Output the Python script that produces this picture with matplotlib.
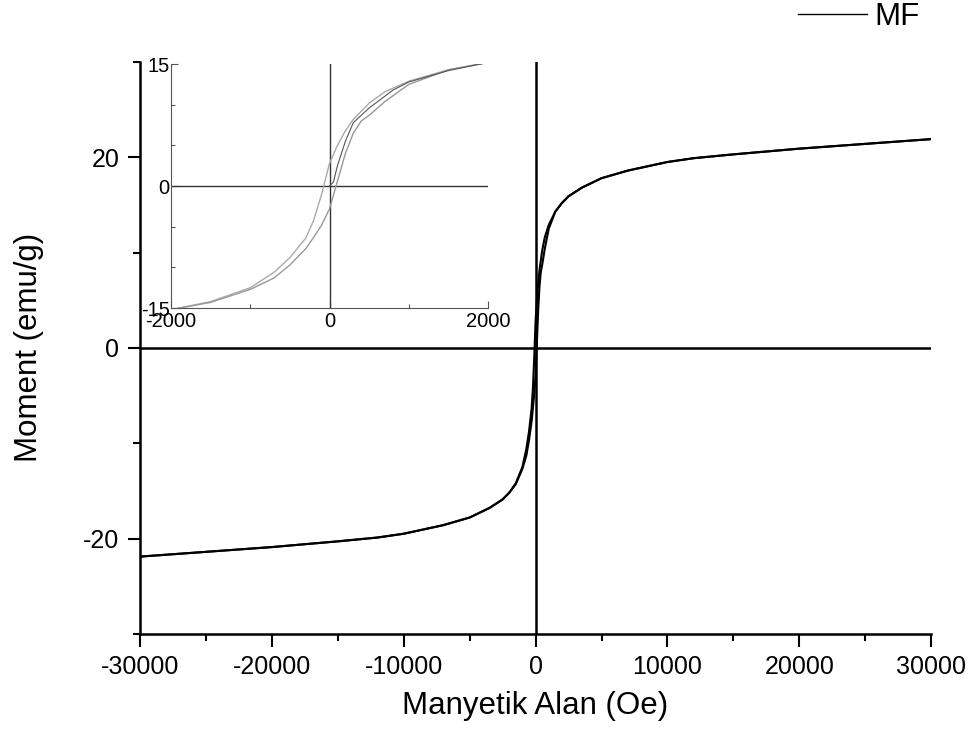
import matplotlib.pyplot as plt
from matplotlib.ticker import MultipleLocator

plt.rcParams['font.family'] = ['Liberation Sans', 'DejaVu Sans']
plt.rcParams['axes.unicode_minus'] = False

# field (Oe) and moment (emu/g)
H_down = [30000, 25000, 20000, 15000, 12000, 10000, 7000, 5000, 3500, 2500, 2000, 1500,
          1000, 700, 500, 300, 200, 100, 0, -100, -200, -300, -500, -700, -1000, -1500,
          -2000, -2500, -3500, -5000, -7000, -10000, -12000, -15000, -20000, -25000, -30000]
M_down = [21.9, 21.4, 20.9, 20.3, 19.9, 19.5, 18.6, 17.8, 16.8, 15.9, 15.2, 14.3,
          12.9, 11.6, 10.2, 8.2, 6.8, 5.0, 2.8, -1.0, -4.2, -6.4, -8.8, -10.6, -12.5, -14.2,
          -15.2, -15.9, -16.8, -17.8, -18.6, -19.5, -19.9, -20.3, -20.9, -21.4, -21.9]

H_up = [-30000, -25000, -20000, -15000, -12000, -10000, -7000, -5000, -3500, -2500, -2000,
        -1500, -1000, -700, -500, -300, -200, -100, 0, 100, 200, 300, 400, 500, 700, 1000,
        1500, 2000, 2500, 3500, 5000, 7000, 10000, 12000, 15000, 20000, 25000, 30000]
M_up = [-21.9, -21.4, -20.9, -20.3, -19.9, -19.5, -18.6, -17.8, -16.8, -15.9, -15.2,
        -14.3, -12.7, -11.3, -9.7, -7.7, -6.3, -4.8, -2.8, 0.6, 4.0, 6.5, 8.0, 8.7, 10.4, 12.5,
        14.3, 15.2, 15.9, 16.8, 17.8, 18.6, 19.5, 19.9, 20.3, 20.9, 21.4, 21.9]

H_virgin = [0, 50, 100, 200, 300, 500, 800, 1000, 1500, 2000]
M_virgin = [0, 0.5, 2.5, 5.5, 7.8, 9.6, 11.8, 12.8, 14.2, 15.2]

fig = plt.figure(figsize=(9.72, 7.37), dpi=100)
ax = fig.add_axes([0.144, 0.14, 0.814, 0.776])

ax.axhline(0, color='black', lw=1.8)
ax.axvline(0, color='black', lw=1.8)
ax.plot(H_down, M_down, color='black', lw=1.5, label='MF')
ax.plot(H_up, M_up, color='black', lw=1.5)

ax.set_xlim(-30000, 30000)
ax.set_ylim(-30, 30)
ax.xaxis.set_major_locator(MultipleLocator(10000))
ax.xaxis.set_minor_locator(MultipleLocator(5000))
ax.yaxis.set_major_locator(MultipleLocator(20))
ax.yaxis.set_minor_locator(MultipleLocator(10))
ax.tick_params(which='both', direction='out', width=1.5, labelsize=18, pad=6)
ax.tick_params(which='major', length=9)
ax.tick_params(which='minor', length=5)
ax.spines['top'].set_visible(False)
ax.spines['right'].set_visible(False)
ax.spines['left'].set_linewidth(1.8)
ax.spines['bottom'].set_linewidth(1.8)
ax.set_xlabel('Manyetik Alan (Oe)', fontsize=22.5, labelpad=9)
ax.set_ylabel('Moment (emu/g)', fontsize=22.5, labelpad=28)

leg = fig.legend(loc='upper right', bbox_to_anchor=(0.975, 1.035), frameon=False,
                 fontsize=22.5, handlelength=2.2, handletextpad=0.25)
for l in leg.get_lines():
    l.set_linewidth(1.0)

# inset: zoom on the loop
ins = fig.add_axes([0.176, 0.582, 0.326, 0.331])
ins.patch.set_alpha(0)
ins.axhline(0, color='#333333', lw=1.0)
ins.axvline(0, color='#333333', lw=1.0)
ins.plot(H_down, M_down, color='#aaaaaa', lw=1.0)
ins.plot(H_up, M_up, color='#999999', lw=1.0)
ins.plot(H_virgin, M_virgin, color='#555555', lw=0.8)
ins.set_xlim(-2000, 2000)
ins.set_ylim(-15, 15)
ins.set_xticks([-2000, 0, 2000])
ins.set_yticks([-15, 0, 15])
ins.xaxis.set_minor_locator(MultipleLocator(1000))
ins.yaxis.set_minor_locator(MultipleLocator(5))
ins.tick_params(which='both', direction='in', width=0.8, color='#555555', labelsize=14.5, pad=1)
ins.tick_params(axis='x', pad=3)
ins.tick_params(which='major', length=5)
ins.tick_params(which='minor', length=3)
ins.spines['top'].set_visible(False)
ins.spines['right'].set_visible(False)
ins.spines['left'].set_color('#555555')
ins.spines['bottom'].set_color('#555555')

fig.savefig('out.png', dpi=100)
